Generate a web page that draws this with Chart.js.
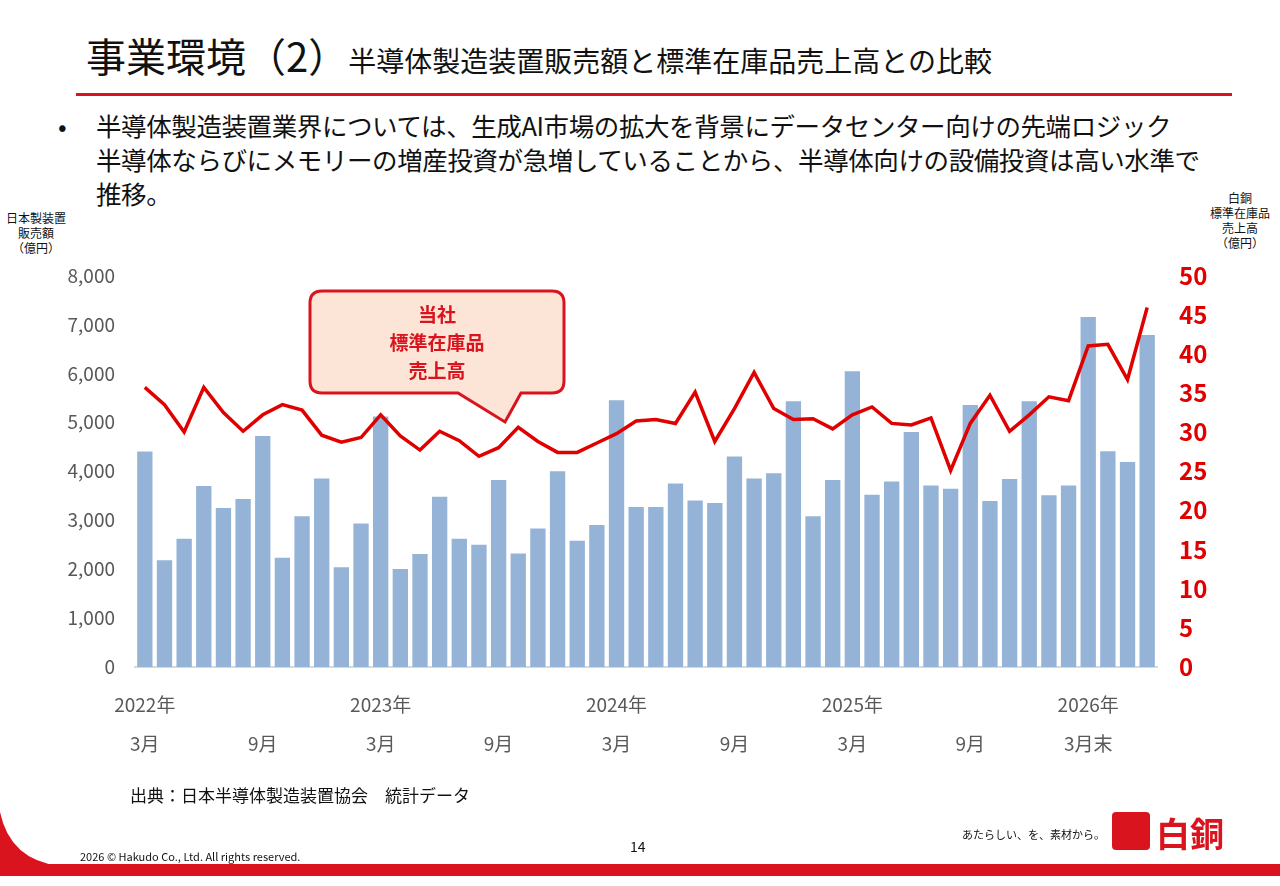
<!DOCTYPE html>
<html><head><meta charset="utf-8">
<script src="https://cdn.jsdelivr.net/npm/chart.js"></script>
<style>
body{margin:0;width:1280px;height:886px;position:relative;overflow:hidden;background:#fff;font-family:"Noto Sans CJK JP","Noto Sans",sans-serif;color:#111}
.a{position:absolute;white-space:nowrap}
</style></head><body>
<div class="a" style="left:86px;top:26px;font-size:40px;">事業環境（2）<span style="font-size:28px;margin-left:0px">半導体製造装置販売額と標準在庫品売上高との比較</span></div>
<div class="a" style="left:76px;top:93px;width:1156px;height:3px;background:#d9141e"></div>
<div class="a" style="left:58px;top:108px;font-size:25.5px;line-height:34px;">•</div>
<div class="a" style="left:96px;top:108px;font-size:25.5px;line-height:34px;letter-spacing:-0.4px">半導体製造装置業界については、生成AI市場の拡大を背景にデータセンター向けの先端ロジック<br>半導体ならびにメモリーの増産投資が急増していることから、半導体向けの設備投資は高い水準で<br>推移。</div>
<div class="a" style="left:0;top:210px;width:72px;text-align:center;font-size:12px;line-height:15px">日本製装置<br>販売額<br>（億円）</div>
<div class="a" style="left:1200px;top:190px;width:80px;text-align:center;font-size:12px;line-height:15px">白銅<br>標準在庫品<br>売上高<br>（億円）</div>
<div class="a" style="left:40px;top:247px;width:1190px;height:523px"><canvas id="c"></canvas></div>
<svg class="a" style="left:0;top:0" width="1280" height="886">
<path d="M322,291 H552 Q564,291 564,303 V381 Q564,393 552,393 H521 L505,422 L458,393 H322 Q310,393 310,381 V303 Q310,291 322,291 Z" fill="#fce4d6" stroke="#d9141e" stroke-width="3"/>
<path d="M0,812 Q10,860 60,866 L0,866 Z" fill="#d9141e"/>
<rect x="0" y="864" width="1280" height="12" fill="#d9141e"/>
</svg>
<div class="a" style="left:310px;top:300px;width:254px;text-align:center;font-size:19px;font-weight:bold;color:#d9141e;line-height:28px">当社<br>標準在庫品<br>売上高</div>
<div class="a" style="left:130px;top:782px;font-size:17px">出典：日本半導体製造装置協会　統計データ</div>
<div class="a" style="left:630px;top:836px;font-size:14px">14</div>
<div class="a" style="left:80px;top:848px;font-size:11px">2026 © Hakudo Co., Ltd. All rights reserved.</div>
<div class="a" style="left:962px;top:826px;font-size:11px">あたらしい、を、素材から。</div>
<div class="a" style="left:1112px;top:812px;width:38px;height:38px;background:#d9141e;border-radius:4px"></div>
<div class="a" style="left:1156px;top:808px;font-size:34px;font-weight:bold;color:#d9141e">白銅</div>
<script>
const categories=[];
const startYear=2022,startMonth=3;
for(let i=0;i<52;i++){const m=(startMonth-1+i)%12+1,y=startYear+Math.floor((startMonth-1+i)/12);categories.push(y+"/"+m);}
const equipmentSales=[4400,2180,2620,3700,3250,3430,4720,2230,3080,3850,2040,2930,5120,2000,2310,3480,2620,2500,3820,2320,2830,4000,2580,2900,5450,3270,3270,3750,3400,3350,4300,3850,3960,5430,3080,3820,6040,3520,3790,4800,3710,3640,5350,3390,3840,5430,3510,3710,7150,4410,4190,6780];
const hakudoSales=[35.7,33.5,30,35.7,32.5,30.1,32.2,33.5,32.8,29.6,28.7,29.3,32.2,29.5,27.7,30.1,28.9,26.9,28,30.6,28.8,27.4,27.4,28.6,29.8,31.4,31.6,31.1,35.1,28.8,33,37.6,33,31.6,31.7,30.4,32.2,33.2,31.1,30.9,31.8,25.1,31.1,34.7,30.1,32.2,34.5,34,41,41.2,36.7,45.9];
const xTickLabels={0:["2022年","3月"],6:["","9月"],12:["2023年","3月"],18:["","9月"],24:["2024年","3月"],30:["","9月"],36:["2025年","3月"],42:["","9月"],48:["2026年","3月末"]};
new Chart(document.getElementById('c'),{
data:{labels:categories,datasets:[
{type:'line',data:hakudoSales,yAxisID:'y2',borderColor:'#e00000',borderWidth:3.5,pointRadius:0,tension:0,order:0},
{type:'bar',data:equipmentSales,yAxisID:'y',backgroundColor:'#95b3d7',barPercentage:0.78,categoryPercentage:1,order:1}]},
options:{responsive:true,maintainAspectRatio:false,animation:false,
plugins:{legend:{display:false},tooltip:{enabled:false}},
layout:{padding:{top:10}},
scales:{
x:{grid:{display:false,drawTicks:false},border:{color:'#d9d9d9',width:2},
ticks:{autoSkip:false,maxRotation:0,padding:18,color:'#595959',font:{size:19,lineHeight:2.05,family:'"Noto Sans CJK JP"'},
callback:(v,i)=>xTickLabels[i]||''},afterFit:s=>{s.height=103}},
y:{min:0,max:8000,position:'left',grid:{display:false},border:{display:false},
ticks:{stepSize:1000,color:'#595959',padding:12,font:{size:19,family:'"Noto Sans CJK JP"'},callback:v=>v.toLocaleString('en-US')},afterFit:s=>{s.width=95}},
y2:{min:0,max:50,position:'right',grid:{display:false},border:{display:false},
ticks:{stepSize:5,color:'#e00000',padding:14,font:{size:24,weight:'bold',family:'"Noto Sans CJK JP"'}},afterFit:s=>{s.width=73}}
}}});
</script>
</body></html>
